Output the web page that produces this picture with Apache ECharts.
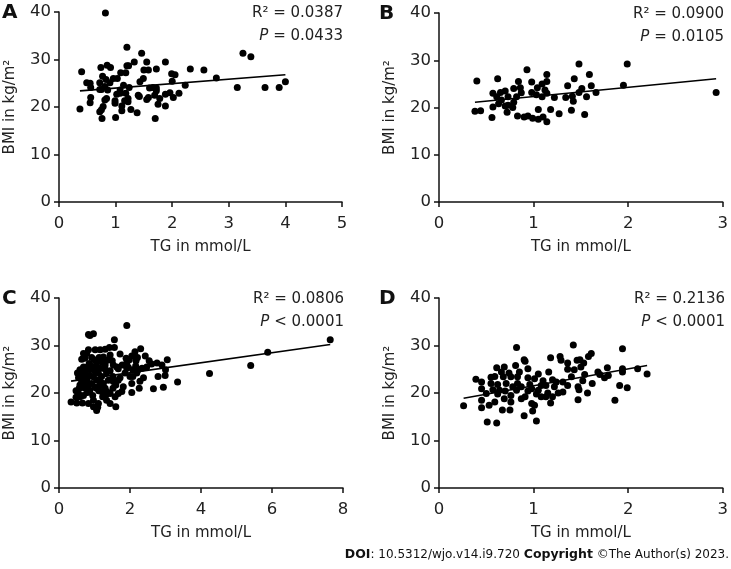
<!DOCTYPE html>
<html>
<head>
<meta charset="utf-8">
<script src="https://cdn.jsdelivr.net/npm/echarts@6/dist/echarts.min.js"></script>
<style>
  html, body { margin: 0; padding: 0; background: #fff; }
  #main { width: 731px; height: 569px; }
</style>
</head>
<body>
<div id="main"></div>
<script>
// TG (mmol/L) vs BMI (kg/m2) scatter, four panels

var panelLetters = ['A', 'B', 'C', 'D'];
var r2Values = ['0.0387', '0.0900', '0.0806', '0.2136'];
var pValues = ['= 0.0433', '= 0.0105', '< 0.0001', '< 0.0001'];
var xMax = [5, 3, 8, 3];
var xStep = [1, 1, 2, 1];

var pointsA = [
  [0.82, 39.8], [1.2, 32.6], [1.46, 31.3], [3.25, 31.3], [3.39, 30.6], [1.33, 29.5], [1.88, 29.5],
  [1.55, 29.5], [0.85, 28.8], [1.2, 28.7], [1.23, 28.7], [0.74, 28.3], [0.91, 28.3], [1.72, 28.0],
  [2.32, 28.0], [2.56, 27.8], [1.5, 27.8], [1.58, 27.8], [0.4, 27.4], [1.09, 27.2], [1.18, 27.2],
  [1.99, 27.0], [2.05, 26.8], [0.77, 26.5], [2.78, 26.1], [0.96, 26.0], [1.03, 26.0], [1.49, 26.0],
  [0.83, 25.8], [2.0, 25.4], [4.0, 25.3], [1.43, 25.3], [0.49, 25.1], [0.55, 25.0], [0.72, 25.1],
  [0.9, 25.1], [2.23, 24.6], [1.14, 24.6], [0.81, 24.3], [1.66, 24.1], [1.72, 24.0], [3.15, 24.1],
  [3.64, 24.1], [3.89, 24.1], [0.56, 24.1], [1.24, 24.1], [1.6, 24.0], [0.72, 23.7], [0.75, 23.7],
  [0.86, 23.6], [1.08, 23.6], [1.72, 23.4], [1.88, 22.7], [1.96, 23.0], [2.12, 22.9], [1.02, 22.7],
  [1.08, 22.9], [1.18, 22.9], [1.4, 22.5], [1.42, 22.2], [1.69, 22.5], [0.56, 22.0], [1.58, 22.0],
  [2.02, 22.0], [0.84, 21.8], [0.81, 21.5], [1.22, 21.8], [1.78, 21.8], [1.55, 21.6], [0.99, 21.3],
  [1.16, 21.3], [1.22, 21.1], [0.55, 20.9], [0.99, 20.8], [1.75, 20.6], [1.88, 20.2], [1.11, 20.2],
  [0.37, 19.6], [0.78, 20.1], [0.75, 19.4], [1.27, 19.5], [1.11, 19.2], [0.72, 19.0], [1.38, 18.8],
  [0.76, 17.6], [1.0, 17.8], [1.7, 17.6]
];
var fitA = [[0.37, 23.4], [4.0, 26.8]];

var pointsB = [
  [0.93, 28.0], [1.48, 29.2], [1.99, 29.2], [2.93, 23.2], [0.40, 25.6], [0.62, 26.1], [1.14, 27.0],
  [1.59, 27.0], [1.43, 26.1], [0.84, 25.5], [0.98, 25.4], [1.14, 25.5], [1.95, 24.7], [1.36, 24.6],
  [1.61, 24.6], [1.09, 25.0], [0.86, 24.2], [0.79, 24.0], [1.04, 24.2], [1.51, 24.0], [1.12, 23.7],
  [0.70, 23.5], [0.57, 23.0], [0.65, 23.2], [0.98, 23.2], [1.14, 23.0], [1.66, 23.2], [1.48, 23.2],
  [0.87, 23.1], [1.03, 22.7], [1.09, 22.3], [1.22, 22.1], [1.34, 22.1], [1.41, 22.4], [1.56, 22.3],
  [0.61, 22.3], [0.73, 22.3], [0.82, 22.3], [0.66, 21.6], [1.42, 21.3], [0.79, 21.1], [0.63, 20.8],
  [0.73, 20.5], [0.57, 20.1], [0.78, 20.0], [0.70, 20.3], [1.05, 19.6], [1.18, 19.6], [1.40, 19.4],
  [0.38, 19.2], [0.44, 19.3], [0.72, 19.0], [1.27, 18.7], [0.83, 18.2], [0.94, 18.2], [1.54, 18.5],
  [0.56, 17.9], [0.90, 18.0], [0.99, 17.7], [1.05, 17.5], [1.10, 18.0], [1.14, 17.0]
];
var fitB = [[0.38, 21.1], [2.93, 26.1]];

var pointsC = [
  [1.91, 34.2], [7.64, 31.2], [5.88, 28.6], [5.40, 25.8], [4.24, 24.1], [3.34, 22.3], [3.05, 27.0],
  [2.94, 21.2], [2.66, 20.9], [3.0, 24.9], [2.90, 25.9], [2.76, 26.3], [2.54, 26.8], [2.43, 27.8],
  [2.30, 29.3], [2.79, 23.5], [2.99, 23.7], [2.38, 23.2], [2.28, 22.5], [2.26, 21.0], [2.05, 22.0],
  [2.05, 20.1], [2.21, 27.5], [2.17, 26.8], [1.89, 27.3], [1.91, 26.3], [1.72, 28.2], [1.95, 25.4],
  [2.08, 24.9], [2.16, 25.7], [1.63, 25.5], [1.56, 29.6], [1.56, 31.2], [1.5, 26.8], [1.44, 24.7],
  [1.6, 21.7], [1.52, 21.0], [1.44, 17.8], [1.6, 17.1], [1.72, 23.2], [1.81, 21.3], [1.77, 20.3],
  [1.67, 19.9], [1.33, 19.7], [1.12, 20.5], [1.06, 16.3], [1.09, 17.0], [1.11, 17.8], [0.97, 18.5],
  [0.83, 17.8], [0.66, 17.9], [0.5, 17.9], [0.34, 18.1], [0.59, 19.2], [0.55, 19.9], [0.48, 19.1],
  [0.83, 32.3], [0.97, 32.5], [0.87, 32.1], [0.83, 29.1], [1.16, 29.1], [1.3, 29.2], [1.42, 29.6],
  [0.64, 27.1], [0.78, 28.3], [0.92, 27.5], [1.06, 26.6], [1.25, 27.6], [0.69, 25.5], [0.59, 24.9],
  [0.74, 24.2], [0.87, 23.6], [1.02, 24.5], [1.16, 25.2], [1.3, 25.9], [1.34, 24.2], [1.2, 23.5],
  [1.06, 22.7], [0.92, 22.0], [0.78, 22.7], [0.64, 23.4], [0.59, 21.7], [0.73, 21.0], [0.87, 20.6],
  [1.02, 21.2], [1.25, 22.0], [1.39, 22.7], [1.3, 21.0], [1.16, 21.7], [0.69, 22.1], [0.83, 21.7],
  [0.97, 23.4], [1.11, 24.2], [0.8, 25.5], [0.95, 25.6], [1.08, 25.5], [1.2, 26.6], [1.36, 26.9],
  [1.52, 23.5], [1.67, 25.1], [1.86, 24.2], [2.0, 23.5], [2.19, 24.2], [2.34, 25.2], [2.47, 25.5],
  [2.61, 26.1], [0.85, 26.2], [0.69, 24.2], [0.55, 23.2], [0.52, 24.2], [0.57, 21.0], [0.48, 20.5],
  [0.69, 19.5], [0.8, 20.1], [0.95, 19.5], [1.23, 19.2], [1.36, 20.2], [1.58, 19.2], [0.99, 27.0],
  [1.13, 27.5], [1.44, 28.0], [1.53, 25.9], [1.78, 25.9], [1.98, 27.0], [2.05, 27.8], [2.14, 28.7],
  [1.3, 25.0], [1.02, 29.1], [0.73, 27.3], [0.69, 28.3], [1.16, 22.4], [1.53, 22.4], [1.67, 22.7],
  [2.08, 23.5], [2.23, 24.9], [1.91, 25.2], [0.87, 24.9], [0.76, 23.1], [0.64, 22.4], [1.06, 21.0],
  [1.2, 20.3], [1.44, 19.9], [1.34, 18.5], [0.97, 17.1]
];
var fitC = [[0.34, 22.5], [7.64, 30.2]];

var pointsD = [
  [1.42, 30.1], [0.82, 29.6], [1.94, 29.3], [1.61, 28.3], [1.58, 27.7], [1.18, 27.4], [1.28, 27.7],
  [1.29, 26.9], [1.46, 26.9], [1.49, 27.0], [0.9, 27.0], [0.91, 26.7], [1.53, 26.3], [0.81, 25.8],
  [0.61, 25.3], [0.69, 25.5], [0.94, 25.1], [1.78, 25.3], [1.94, 25.1], [2.1, 25.1], [1.5, 25.5],
  [1.36, 25.0], [1.16, 24.4], [0.85, 24.4], [0.74, 24.2], [1.05, 24.0], [1.68, 24.4], [1.7, 23.9],
  [1.79, 23.7], [1.54, 23.9], [2.2, 24.0], [1.94, 24.4], [0.59, 23.5], [0.68, 23.4], [0.76, 23.4],
  [0.94, 23.2], [1.01, 23.0], [1.2, 22.8], [1.52, 22.6], [1.62, 22.0], [0.39, 22.9], [0.45, 22.3],
  [0.55, 22.0], [0.62, 21.8], [0.71, 22.0], [0.83, 22.0], [0.96, 21.8], [1.08, 21.6], [1.22, 21.3],
  [1.36, 21.6], [1.47, 21.3], [0.45, 20.9], [0.57, 20.7], [0.7, 20.4], [0.82, 20.6], [0.94, 20.4],
  [1.05, 20.6], [1.15, 20.0], [1.26, 20.0], [1.57, 20.0], [1.48, 20.7], [1.91, 21.6], [1.99, 21.1],
  [0.5, 19.9], [0.62, 19.8], [0.76, 19.5], [0.91, 19.2], [1.03, 19.8], [1.13, 19.2], [1.2, 19.2],
  [0.45, 18.5], [0.59, 18.1], [0.76, 18.1], [1.18, 17.9], [1.47, 18.6], [1.86, 18.5], [0.98, 17.8],
  [1.01, 17.4], [0.26, 17.3], [0.45, 16.9], [0.53, 17.4], [0.67, 16.4], [0.75, 16.4], [0.99, 16.2],
  [0.9, 15.2], [0.51, 13.9], [0.61, 13.7], [1.03, 14.1], [0.55, 23.3], [0.66, 24.4], [0.78, 21.3],
  [0.87, 21.3], [0.98, 20.9], [1.1, 22.6], [1.31, 22.3], [1.4, 23.4], [1.75, 23.2], [1.31, 20.2],
  [0.87, 18.8], [1.36, 26.3], [1.43, 24.9], [0.69, 18.8], [1.08, 19.2], [0.83, 23.4], [0.64, 20.6],
  [1.13, 21.6], [1.24, 22.3]
];
var fitD = [[0.26, 18.9], [2.2, 25.8]];

var allPoints = [pointsA, pointsB, pointsC, pointsD];
var allFits = [fitA, fitB, fitC, fitD];

var FONT = 'DejaVu Sans';
var grids = [
  { left: 59, top: 12, width: 283, height: 190 },
  { left: 439, top: 13, width: 284, height: 189 },
  { left: 59, top: 298, width: 284, height: 190 },
  { left: 439, top: 298, width: 285, height: 190 }
];

var axisLine = { lineStyle: { color: '#111', width: 1.5 } };
var axisTick = { show: true, inside: false, length: 5, lineStyle: { color: '#111', width: 1.5 } };

var xAxes = [], yAxes = [], series = [], graphics = [];
for (var i = 0; i < 4; i++) {
  xAxes.push({
    type: 'value', gridIndex: i, min: 0, max: xMax[i], interval: xStep[i],
    name: 'TG in mmol/L', nameLocation: 'middle', nameGap: 38,
    nameTextStyle: { fontFamily: FONT, fontSize: 15, color: '#222' },
    axisLine: axisLine, axisTick: axisTick, splitLine: { show: false },
    axisLabel: { fontFamily: FONT, fontSize: 16.5, color: '#222', margin: 13 }
  });
  yAxes.push({
    type: 'value', gridIndex: i, min: 0, max: 40, interval: 10,
    name: 'BMI in kg/m\u00b2', nameLocation: 'middle', nameGap: 41,
    nameTextStyle: { fontFamily: FONT, fontSize: 15, color: '#222' },
    axisLine: axisLine, axisTick: axisTick, splitLine: { show: false },
    axisLabel: { fontFamily: FONT, fontSize: 16.5, color: '#222', margin: 8 }
  });
  series.push({
    type: 'line', xAxisIndex: i, yAxisIndex: i, data: allFits[i],
    symbol: 'none', silent: true, z: 3,
    lineStyle: { color: '#000', width: 1.6 }
  });
  series.push({
    type: 'scatter', xAxisIndex: i, yAxisIndex: i, data: allPoints[i],
    symbolSize: 7, z: 4,
    itemStyle: { color: '#000', opacity: 1 }
  });

  var g = grids[i];
  var right = g.left + g.width + 1;
  graphics.push({
    type: 'text', left: i % 2 === 0 ? 2 : 379, top: g.top - 9,
    style: { text: panelLetters[i], fontFamily: FONT, fontSize: 20, fontWeight: 'bold', fill: '#111' }
  });
  graphics.push({
    type: 'text', x: right, y: g.top + 1,
    style: {
      text: 'R\u00b2 = ' + r2Values[i], fontFamily: FONT, fontSize: 15, fill: '#222',
      align: 'right', verticalAlign: 'middle'
    }
  });
  graphics.push({
    type: 'text', x: right, y: g.top + 24,
    style: {
      text: '{i|P} ' + pValues[i], fontFamily: FONT, fontSize: 15, fill: '#222',
      align: 'right', verticalAlign: 'middle',
      rich: { i: { fontFamily: FONT, fontSize: 15, fontStyle: 'italic', fill: '#222' } }
    }
  });
}

graphics.push({
  type: 'text', x: 729, y: 555,
  style: {
    text: '{b|DOI}: 10.5312/wjo.v14.i9.720 {b|Copyright} \u00a9The Author(s) 2023.',
    fontFamily: FONT, fontSize: 12, fill: '#111', align: 'right', verticalAlign: 'middle',
    rich: { b: { fontFamily: FONT, fontSize: 12.5, fontWeight: 'bold', fill: '#111' } }
  }
});

var chart = echarts.init(document.getElementById('main'));
chart.setOption({
  animation: false,
  backgroundColor: '#fff',
  grid: grids,
  xAxis: xAxes,
  yAxis: yAxes,
  series: series,
  graphic: graphics
});
</script>
</body>
</html>
